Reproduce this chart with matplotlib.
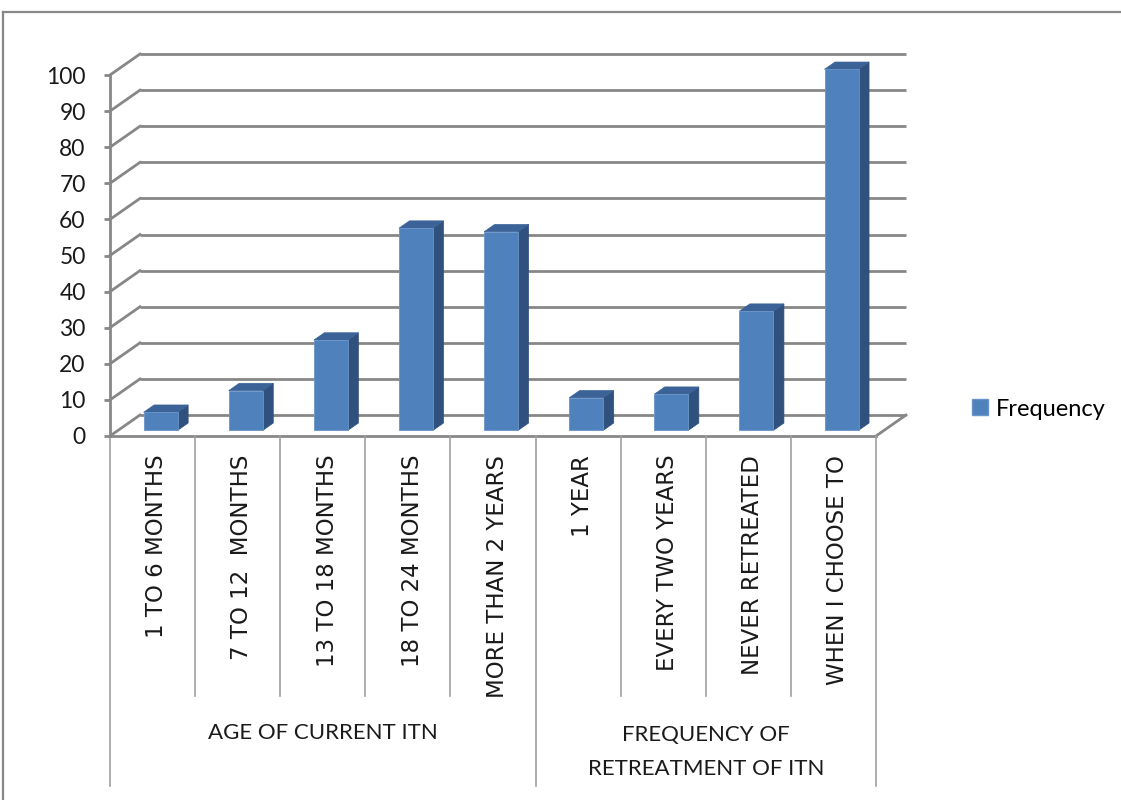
import matplotlib.pyplot as plt
from matplotlib.patches import Polygon, Patch
from matplotlib.lines import Line2D

# survey answers, grouped under two questions
categories = ['1 TO 6 MONTHS', '7 TO 12  MONTHS', '13 TO 18 MONTHS', '18 TO 24 MONTHS',
              'MORE THAN 2 YEARS', '1 YEAR', 'EVERY TWO YEARS', 'NEVER RETREATED',
              'WHEN I CHOOSE TO']
values = [5, 11, 25, 56, 55, 9, 10, 33, 100]
groups = ['AGE OF CURRENT ITN', 'FREQUENCY OF\nRETREATMENT OF ITN']
group_sizes = [5, 4]
series_name = 'Frequency'
yticks = list(range(0, 101, 10))

# fake 3d: depth offset of the back wall, in data units
DX, DY = 0.352, 5.8
BAR_W = 0.40
BAR_FRONT = 0.27   # how far back the bar front sits (fraction of depth)
BAR_DEPTH = 0.35

FRONT = '#4f81bd'
TOP = '#3b6398'
SIDE = '#30507e'
GRID = '#878787'
TABLE = '#a0a0a0'

fig = plt.figure(figsize=(11.21, 8.0), dpi=100)
ax = fig.add_axes([110 / 1121, 364 / 800, 766 / 1121, 361 / 800])
n = len(categories)
ax.set_xlim(0, n)
ax.set_ylim(0, 100)

# back wall + left wall gridlines
for v in yticks:
    ax.plot([DX, n + DX], [v + DY, v + DY], color=GRID, lw=2.0, clip_on=False, zorder=1,
            solid_capstyle='butt')
    ax.plot([0, DX], [v, v + DY], color=GRID, lw=2.0, clip_on=False, zorder=1)

# floor edges
ax.plot([0, n], [0, 0], color=GRID, lw=2.0, clip_on=False, zorder=2)
ax.plot([n, n + DX], [0, DY], color=GRID, lw=2.0, clip_on=False, zorder=2)

# bars: front, top and right side faces
for i, v in enumerate(values):
    x0 = i + 0.5 - BAR_W / 2 + BAR_FRONT * DX
    x1 = x0 + BAR_W
    y0 = BAR_FRONT * DY
    y1 = v + y0
    ddx, ddy = BAR_DEPTH * DX, BAR_DEPTH * DY
    ax.add_patch(Polygon([(x1, y0), (x1 + ddx, y0 + ddy), (x1 + ddx, y1 + ddy), (x1, y1)],
                         closed=True, facecolor=SIDE, edgecolor=SIDE, lw=0.5, zorder=3,
                         clip_on=False))
    ax.add_patch(Polygon([(x0, y1), (x1, y1), (x1 + ddx, y1 + ddy), (x0 + ddx, y1 + ddy)],
                         closed=True, facecolor=TOP, edgecolor=TOP, lw=0.5, zorder=3,
                         clip_on=False))
    ax.add_patch(Polygon([(x0, y0), (x1, y0), (x1, y1), (x0, y1)], closed=True,
                         facecolor=FRONT, edgecolor='#6a95c8', lw=0.6, zorder=4,
                         clip_on=False))

# value axis on the front left edge
for s in ['top', 'right', 'bottom']:
    ax.spines[s].set_visible(False)
ax.spines['left'].set_color(GRID)
ax.spines['left'].set_linewidth(2.0)
ax.set_xticks([])
ax.set_yticks(yticks)
ax.tick_params(axis='y', direction='out', length=4.5, width=2.0, color=GRID, pad=13,
               labelsize=16.5, labelcolor='#1a1a1a')
for lab in ax.get_yticklabels():
    lab.set_family('Lato')
ax.patch.set_alpha(0)

# category table under the floor
tr = ax.get_xaxis_transform()
edges = [0]
for g in group_sizes:
    edges.append(edges[-1] + g)
for b in range(n + 1):
    low = -0.97 if b in edges else -0.72
    ax.add_line(Line2D([b, b], [0, low], transform=tr, color=TABLE, lw=1.2, clip_on=False))

for i, name in enumerate(categories):
    ax.text(i + 0.55, -0.052, name, transform=tr, rotation=90, ha='center', va='top',
            fontsize=16.5, family='DejaVu Sans', color='#1a1a1a')

for k, g in enumerate(groups):
    mid = (edges[k] + edges[k + 1]) / 2
    ax.text(mid, -0.875 if '\n' in g else -0.823, g, transform=tr, ha='center',
            va='center', fontsize=16, family='Lato', color='#1a1a1a', linespacing=1.85)

fig.legend(handles=[Patch(facecolor=FRONT, edgecolor='#6a95c8')], labels=[series_name],
           loc='center left', bbox_to_anchor=(951 / 1121, 1 - 409 / 800), frameon=False,
           handlelength=0.65, handleheight=0.65, handletextpad=0.35,
           prop={'family': 'Lato', 'size': 17})

# chart area border (runs off the right and bottom edges)
fig.add_artist(Line2D([3 / 1121, 1.0], [788 / 800, 788 / 800], color='#888888', lw=1.6))
fig.add_artist(Line2D([3 / 1121, 3 / 1121], [0, 788 / 800], color='#888888', lw=1.6))

fig.savefig('out.png', dpi=100, facecolor='white')
